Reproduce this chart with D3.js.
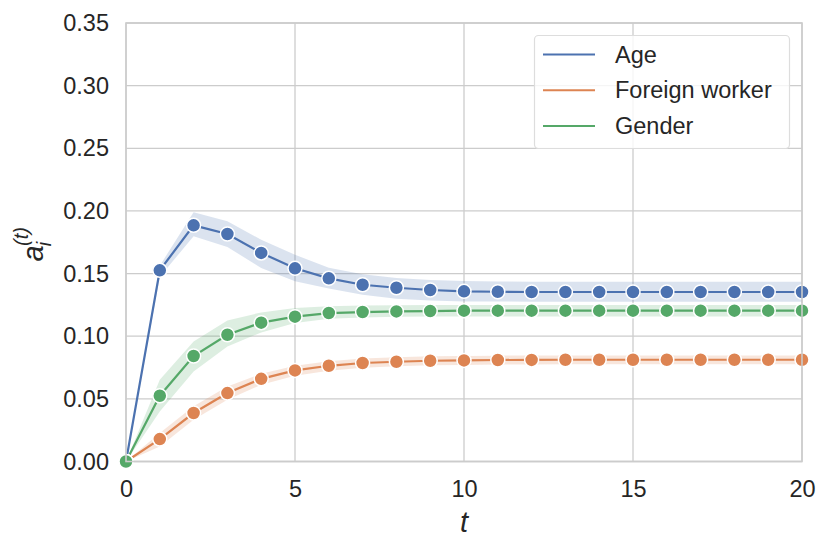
<!DOCTYPE html>
<html><head><meta charset="utf-8">
<script src="https://cdnjs.cloudflare.com/ajax/libs/d3/7.8.5/d3.min.js"></script>
<style>body{margin:0;background:#fff}svg{display:block}text{font-family:"Liberation Sans",Arial,sans-serif}</style>
</head><body><svg id="c" width="831" height="551"></svg>
<script>
const tValues = d3.range(0, 21);
const seriesNames = ["Age", "Foreign worker", "Gender"];
const seriesColors = ["#4c72b0", "#dd8452", "#55a868"];
const ageMean = [0, 0.1526, 0.1885, 0.1816, 0.1665, 0.1542, 0.1462, 0.1411, 0.1387, 0.1369, 0.1358, 0.1355, 0.1353, 0.1353, 0.1353, 0.1353, 0.1353, 0.1353, 0.1353, 0.1353, 0.1353];
const ageLow  = [0, 0.1475, 0.1797, 0.1712, 0.1545, 0.1438, 0.1380, 0.1330, 0.1300, 0.1285, 0.1278, 0.1277, 0.1275, 0.1275, 0.1275, 0.1275, 0.1275, 0.1275, 0.1275, 0.1275, 0.1275];
const ageHigh = [0, 0.1563, 0.1989, 0.1917, 0.1770, 0.1650, 0.1547, 0.1495, 0.1465, 0.1448, 0.1440, 0.1437, 0.1435, 0.1435, 0.1435, 0.1435, 0.1435, 0.1435, 0.1435, 0.1435, 0.1435];
const fwMean = [0, 0.0179, 0.0387, 0.0546, 0.0660, 0.0727, 0.0764, 0.0786, 0.0796, 0.0804, 0.0807, 0.0810, 0.0811, 0.0812, 0.0812, 0.0812, 0.0812, 0.0812, 0.0812, 0.0812, 0.0812];
const fwLow  = [0, 0.0120, 0.0333, 0.0493, 0.0613, 0.0684, 0.0724, 0.0748, 0.0760, 0.0768, 0.0771, 0.0774, 0.0775, 0.0776, 0.0776, 0.0776, 0.0776, 0.0776, 0.0776, 0.0776, 0.0776];
const fwHigh = [0, 0.0227, 0.0440, 0.0599, 0.0700, 0.0764, 0.0800, 0.0822, 0.0832, 0.0840, 0.0843, 0.0845, 0.0846, 0.0847, 0.0847, 0.0847, 0.0847, 0.0847, 0.0847, 0.0847, 0.0847];
const gMean = [0, 0.0525, 0.0842, 0.1012, 0.1108, 0.1156, 0.1185, 0.1193, 0.1198, 0.1201, 0.1204, 0.1204, 0.1204, 0.1204, 0.1204, 0.1204, 0.1204, 0.1204, 0.1204, 0.1204, 0.1204];
const gLow  = [0, 0.0400, 0.0719, 0.0918, 0.1030, 0.1105, 0.1140, 0.1150, 0.1155, 0.1157, 0.1158, 0.1158, 0.1158, 0.1158, 0.1158, 0.1158, 0.1158, 0.1158, 0.1158, 0.1158, 0.1158];
const gHigh = [0, 0.0653, 0.0958, 0.1126, 0.1190, 0.1225, 0.1240, 0.1245, 0.1248, 0.1250, 0.1250, 0.1250, 0.1250, 0.1250, 0.1250, 0.1250, 0.1250, 0.1250, 0.1250, 0.1250, 0.1250];
const xTicks = [0, 5, 10, 15, 20];
const yTicks = [0, 0.05, 0.10, 0.15, 0.20, 0.25, 0.30, 0.35];

const series = [
  {name: seriesNames[0], color: seriesColors[0], mean: ageMean, low: ageLow, high: ageHigh},
  {name: seriesNames[1], color: seriesColors[1], mean: fwMean, low: fwLow, high: fwHigh},
  {name: seriesNames[2], color: seriesColors[2], mean: gMean, low: gLow, high: gHigh}
];

const L = 126, R = 802, T = 23, B = 461.5;
const svg = d3.select("#c");
const x = d3.scaleLinear().domain([0, 20]).range([L, R]);
const y = d3.scaleLinear().domain([0, 0.35]).range([B, T]);

// grid
const g = svg.append("g");
g.selectAll(".gx").data(xTicks).join("line")
  .attr("x1", d => x(d)).attr("x2", d => x(d)).attr("y1", T).attr("y2", B)
  .attr("stroke", "#cccccc").attr("stroke-width", 1.3);
g.selectAll(".gy").data(yTicks).join("line")
  .attr("y1", d => y(d)).attr("y2", d => y(d)).attr("x1", L).attr("x2", R)
  .attr("stroke", "#cccccc").attr("stroke-width", 1.3);

// axes (text only)
const xAxis = d3.axisBottom(x).tickValues(xTicks).tickSize(0).tickPadding(19).tickFormat(d3.format("d"));
const yAxis = d3.axisLeft(y).tickValues(yTicks).tickSize(0).tickPadding(17).tickFormat(d3.format(".2f"));
const gx = svg.append("g").attr("transform", `translate(0,${B})`).call(xAxis);
const gy = svg.append("g").attr("transform", `translate(${L},0)`).call(yAxis);
[gx, gy].forEach(a => {
  a.select(".domain").remove();
  a.selectAll("text").attr("fill", "#262626").style("font-size", "23.5px");
});

// bands, lines, markers
const area = d3.area().x((d, i) => x(tValues[i])).y0(d => y(d[0])).y1(d => y(d[1]));
const line = d3.line().x((d, i) => x(tValues[i])).y(d => y(d));
series.forEach(s => {
  svg.append("path").datum(s.low.map((v, i) => [v, s.high[i]]))
    .attr("d", area).attr("fill", s.color).attr("fill-opacity", 0.2).attr("stroke", "none");
});
series.forEach(s => {
  svg.append("path").datum(s.mean).attr("d", line)
    .attr("fill", "none").attr("stroke", s.color).attr("stroke-width", 2.2);
});
series.forEach(s => {
  svg.append("g").selectAll("circle").data(s.mean).join("circle")
    .attr("cx", (d, i) => x(tValues[i])).attr("cy", d => y(d)).attr("r", 7)
    .attr("fill", s.color).attr("stroke", "#fff").attr("stroke-width", 1.5);
});

// spines
svg.append("rect").attr("x", L).attr("y", T).attr("width", R - L).attr("height", B - T)
  .attr("fill", "none").attr("stroke", "#cccccc").attr("stroke-width", 1.6);

// axis labels
svg.append("text").attr("x", x(10)).attr("y", 532).attr("text-anchor", "middle")
  .style("font-size", "29px").style("font-style", "italic").attr("fill", "#262626").text("t");
const yl = svg.append("text").attr("transform", `translate(43,${(T + B) / 2 + 2}) rotate(-90)`)
  .attr("text-anchor", "middle").style("font-size", "29px").style("font-style", "italic").attr("fill", "#262626");
yl.append("tspan").text("a");
yl.append("tspan").attr("dy", 8).attr("dx", -1).style("font-size", "20px").text("i");
yl.append("tspan").attr("dy", -23).attr("dx", -4).style("font-size", "20px").text("(t)");

// legend
const lg = svg.append("g");
lg.append("rect").attr("x", 534.5).attr("y", 35.5).attr("width", 255).attr("height", 113).attr("rx", 4)
  .attr("fill", "#fff").attr("fill-opacity", 0.8).attr("stroke", "#dddddd").attr("stroke-width", 1.2);
series.forEach((s, i) => {
  const yy = 54.5 + i * 35.7;
  lg.append("line").attr("x1", 543).attr("x2", 595).attr("y1", yy).attr("y2", yy)
    .attr("stroke", s.color).attr("stroke-width", 2);
  lg.append("text").attr("x", 615).attr("y", yy).attr("dy", "0.35em")
    .style("font-size", "23.5px").attr("fill", "#262626").text(s.name);
});
</script></body></html>
